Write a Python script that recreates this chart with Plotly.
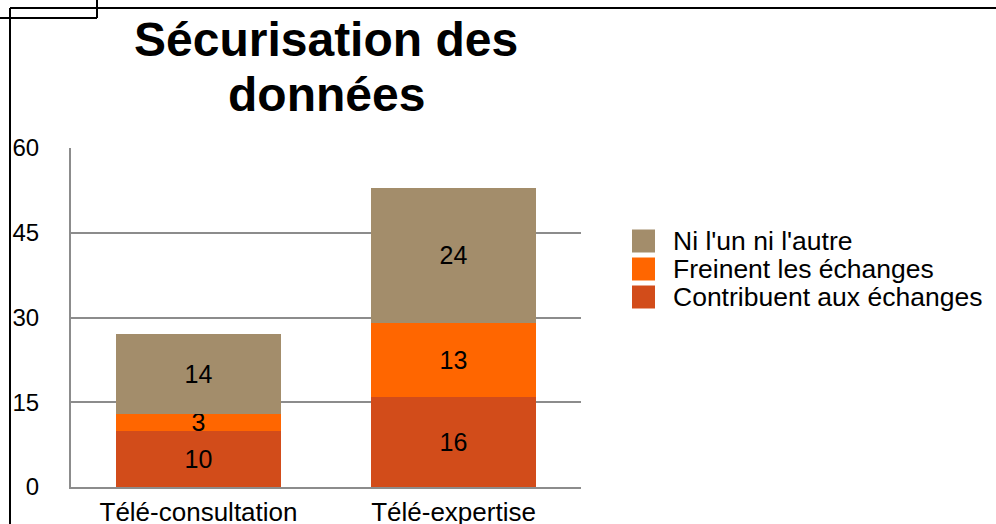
import plotly.graph_objects as go

CATEGORIES = ["Télé-consultation", "Télé-expertise"]
SERIES = ["Contribuent aux échanges", "Freinent les échanges", "Ni l'un ni l'autre"]
CONTRIBUENT = [10, 16]
FREINENT = [3, 13]
NI_NI = [14, 24]
Y_TICKS = [0, 15, 30, 45, 60]

COLORS = ["#D24C1A", "#FF6600", "#A38D6B"]
FONT = "Liberation Sans, Arial, sans-serif"

# plot area in pixels
L, R, T, B = 71, 581, 148, 487
W, H = 996, 524


def px(x):
    return (x - L) / (R - L)


def py(y):
    return (B - y) / (B - T)


fig = go.Figure()
for name, values, color in zip(SERIES, [CONTRIBUENT, FREINENT, NI_NI], COLORS):
    fig.add_bar(
        name=name,
        x=CATEGORIES,
        y=values,
        text=values,
        marker_color=color,
        marker_line_width=0,
        textposition="inside",
        insidetextanchor="middle",
        textangle=0,
        constraintext="none",
        textfont=dict(color="black", size=25, family=FONT),
        width=0.65,
        showlegend=False,
    )

# frame lines from the original page
frame = [
    (10, 8, W, 8),
    (0, 18, 97, 18),
    (97, 0, 97, 18),
    (10, 8, 10, H),
]
shapes = [
    dict(
        type="line", xref="paper", yref="paper",
        x0=px(x0), y0=py(y0), x1=px(x1), y1=py(y1),
        line=dict(color="black", width=2),
    )
    for x0, y0, x1, y1 in frame
]

# title set as two lines with tighter leading than plotly's <br>
annotations = [
    dict(
        text=f"<b>{line}</b>", xref="paper", yref="paper",
        x=px(326), y=py(cy), xanchor="center", yanchor="middle",
        showarrow=False, font=dict(size=48),
    )
    for line, cy in [("Sécurisation des", 40), ("données", 94)]
]

# hand-drawn legend, top item first
for i, (name, color) in enumerate(zip(SERIES[::-1], COLORS[::-1])):
    cy = 241 + 28 * i
    shapes.append(
        dict(
            type="rect", xref="paper", yref="paper",
            x0=px(632), x1=px(655), y0=py(cy - 11.5), y1=py(cy + 11.5),
            fillcolor=color, line_width=0,
        )
    )
    annotations.append(
        dict(
            text=name, xref="paper", yref="paper",
            x=px(671), y=py(cy), xanchor="left", yanchor="middle",
            showarrow=False, font=dict(size=26.5),
        )
    )

fig.update_layout(
    width=W,
    height=H,
    barmode="stack",
    plot_bgcolor="white",
    paper_bgcolor="white",
    font=dict(family=FONT, color="black"),
    margin=dict(l=L, r=W - R, t=T, b=H - B, pad=0, autoexpand=False),
    xaxis=dict(
        tickfont=dict(size=26),
        showline=True,
        linecolor="#8c8c8c",
        linewidth=2,
        ticks="",
        ticklabelstandoff=1,
        automargin=False,
    ),
    yaxis=dict(
        range=[0, 60],
        tickvals=Y_TICKS,
        tickfont=dict(size=24),
        showgrid=True,
        gridcolor="#8c8c8c",
        gridwidth=2,
        showline=True,
        linecolor="#8c8c8c",
        linewidth=2,
        zeroline=False,
        ticks="",
        ticklabelstandoff=25,
        automargin=False,
    ),
    shapes=shapes,
    annotations=annotations,
)

fig.write_html(
    "out.html",
    config={"displayModeBar": False},
    post_script="document.body.style.margin='0';document.body.style.overflow='hidden';",
)
